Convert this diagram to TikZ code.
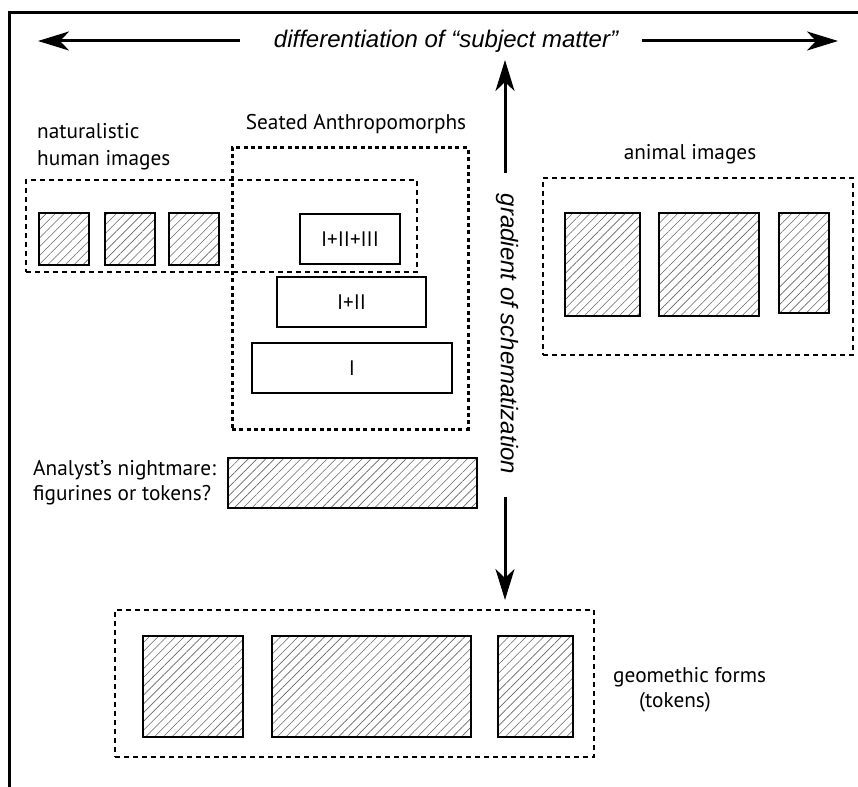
\documentclass[tikz,border=0pt]{standalone}
\usepackage{fontspec}
\setmainfont{PT Sans}
\newfontfamily\helv{Liberation Sans}
\usetikzlibrary{arrows.meta,patterns.meta}
\begin{document}
\begin{tikzpicture}[x=1pt,y=-1pt,
  lbl/.style={inner sep=0pt, font=\fontsize{21.3}{24.5}\selectfont},
  ital/.style={inner sep=0pt, font=\helv\itshape\fontsize{24}{28}\selectfont},
  dbox/.style={draw, line width=1.3pt, dash pattern=on 5pt off 4pt, inner sep=0pt},
  sbox/.style={draw, line width=3pt, dash pattern=on 4pt off 3.3pt, inner sep=0pt},
  hbox/.style={draw, line width=1.8pt, inner sep=0pt,
     pattern={Lines[angle=45,distance=6.2pt,line width=0.6pt]}, pattern color=black!60},
  wbox/.style={draw, line width=1.8pt, fill=white, inner sep=0pt, font=\fontsize{21}{24}\selectfont},
  arr/.style={line width=3pt, -{Stealth[length=31pt,width=19pt,inset=9pt]}},
]
\useasboundingbox (0,0) rectangle (858,786);
% frame
\draw[line width=3pt] (9,790) -- (9,13) -- (862,13);

% title and horizontal arrows
\node[ital, anchor=base] (title) at (446,48) {differentiation of “subject matter”};
\coordinate (hlS) at (240,41);
\coordinate (hlT) at (38,41);
\coordinate (hrS) at (642,41);
\coordinate (hrT) at (838,41);
\draw[arr] (hlS) -- (hlT);
\draw[arr] (hrS) -- (hrT);

% vertical text and arrows
\node[ital, rotate=-90] (grad) at (507,334) {gradient of schematization};
\coordinate (vuS) at (505,173);
\coordinate (vuT) at (505,60);
\coordinate (vdS) at (505,497);
\coordinate (vdT) at (505,600);
\draw[arr] (vuS) -- (vuT);
\draw[arr] (vdS) -- (vdT);

% naturalistic human images
\node[lbl, anchor=base west, align=left] (natlbl) at (37,166) {naturalistic\\[3pt]human images};
\node[dbox, minimum width=391pt, minimum height=92pt] (natbox) at (221.5,226) {};
\node[hbox, minimum width=50pt, minimum height=52pt] (h1) at (64,239) {};
\node[hbox, minimum width=50pt, minimum height=52pt] (h2) at (130,239) {};
\node[hbox, minimum width=50pt, minimum height=52pt] (h3) at (194,239) {};

% seated anthropomorphs
\node[lbl, anchor=base] (seatlbl) at (356,130) {Seated Anthropomorphs};
\node[sbox, minimum width=236pt, minimum height=281pt] (seatbox) at (350,288.5) {};
\node[wbox, minimum width=100pt, minimum height=50pt] (s3) at (350,239) {I+II+III};
\node[wbox, minimum width=149pt, minimum height=50pt] (s2) at (351.5,302) {I+II};
\node[wbox, minimum width=200pt, minimum height=50pt] (s1) at (352,368) {I};

% animal images
\node[lbl, anchor=base] (anilbl) at (690,160) {animal images};
\node[dbox, minimum width=310pt, minimum height=177pt] (anibox) at (698,266.5) {};
\node[hbox, minimum width=75pt, minimum height=103pt] (a1) at (602.5,264.5) {};
\node[hbox, minimum width=100pt, minimum height=103pt] (a2) at (709,264.5) {};
\node[hbox, minimum width=50pt, minimum height=100pt] (a3) at (804,263) {};

% analyst's nightmare
\node[lbl, anchor=base west, align=left] (anlbl) at (33,500) {Analyst’s nightmare:\\figurines or tokens?};
\node[hbox, minimum width=249pt, minimum height=50pt] (anbox) at (352.5,483) {};

% geometric forms
\node[dbox, minimum width=479pt, minimum height=147pt] (geobox) at (354.5,683.5) {};
\node[hbox, minimum width=100pt, minimum height=101pt] (b1) at (193,686.5) {};
\node[hbox, minimum width=199pt, minimum height=101pt] (b2) at (371.5,686.5) {};
\node[hbox, minimum width=75pt, minimum height=101pt] (b3) at (535.5,686.5) {};
\node[lbl, anchor=base west, align=left] (geolbl) at (613,707) {geomethic forms\\\hspace*{26pt}(tokens)};
\end{tikzpicture}
\end{document}
